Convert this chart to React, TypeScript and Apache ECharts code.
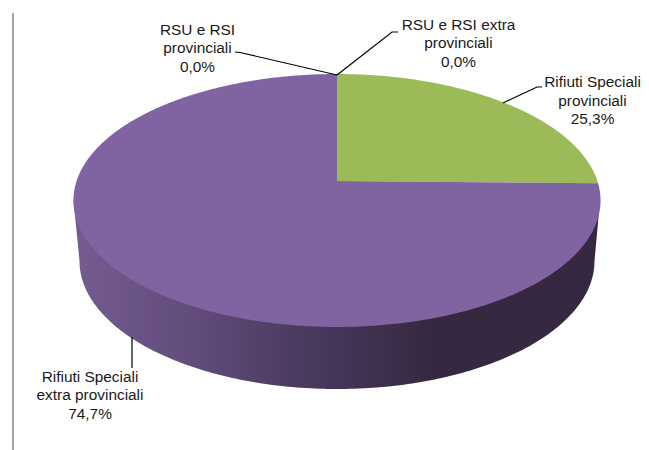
import React, { useEffect, useRef } from "react";
import * as echarts from "echarts";

const categories = [
  "RSU e RSI extra provinciali",
  "Rifiuti Speciali provinciali",
  "Rifiuti Speciali extra provinciali",
  "RSU e RSI provinciali",
];
const shares = [0.0, 25.3, 74.7, 0.0];
const sliceColors = ["#4F81BD", "#9BBB59", "#8064A2", "#C0504D"];
const labelLines = [
  ["RSU e RSI extra", "provinciali", "0,0%"],
  ["Rifiuti Speciali", "provinciali", "25,3%"],
  ["Rifiuti Speciali", "extra provinciali", "74,7%"],
  ["RSU e RSI", "provinciali", "0,0%"],
];

// Perspective of the pie's top face
const CX = 337;
const RX = 260.4;
const PERSP = 0.154;
const A = -95.6;
const VY = 181;
// Lower rim of the pie's side
const BOTTOM = { cx: 337, cy: 261, rx: 257.5, ry: 128 };
const TOP_EXT = { xl: 73.5, xr: 600, y: 200.5 };

const project = (deg: number) => {
  const t = (deg * Math.PI) / 180;
  const u = Math.sin(t);
  const v = Math.cos(t);
  const d = 1 + PERSP * v;
  return [CX + (RX * u) / d, (A * v + VY) / d];
};

const total = shares.reduce((a, b) => a + b, 0);
const startAngles: number[] = [];
shares.reduce((acc, s) => {
  startAngles.push((acc / total) * 360);
  return acc + s;
}, 0);

const labelPos: [number, number][] = [
  [458.5, 24],
  [592.5, 81.5],
  [90, 376],
  [197.5, 29],
];
const leaders: number[][][] = [
  [[337, 75], [392, 32], [398, 32]],
  [[503, 103], [537, 87], [542, 87]],
  [[132, 337], [132, 368]],
  [[337, 75], [240, 52.5], [235, 52]],
];

const renderSide = () => {
  const pts: number[][] = [[TOP_EXT.xr, TOP_EXT.y]];
  for (let a = 0; a <= 180; a += 1) {
    const t = (a * Math.PI) / 180;
    pts.push([BOTTOM.cx + BOTTOM.rx * Math.cos(t), BOTTOM.cy + BOTTOM.ry * Math.sin(t)]);
  }
  pts.push([TOP_EXT.xl, TOP_EXT.y]);
  return {
    type: "polygon",
    shape: { points: pts },
    style: {
      fill: new echarts.graphic.LinearGradient(0, 0, 1, 0, [
        { offset: 0, color: "#755C91" },
        { offset: 0.25, color: "#5F4A78" },
        { offset: 0.42, color: "#4C3B61" },
        { offset: 0.68, color: "#362841" },
        { offset: 1, color: "#352840" },
      ]),
    },
  };
};

const renderSlice = (params: any, api: any) => {
  const i = params.dataIndex;
  const value = api.value(0);
  if (!value) return { type: "group", children: [] };
  const start = startAngles[i];
  const sweep = (value / total) * 360;
  const pts: number[][] = [[CX, VY]];
  const steps = Math.ceil(sweep * 2);
  for (let k = 0; k <= steps; k++) pts.push(project(start + (sweep * k) / steps));
  return {
    type: "polygon",
    shape: { points: pts },
    style: { fill: sliceColors[i] },
  };
};

export default function App() {
  const ref = useRef<HTMLDivElement>(null);
  useEffect(() => {
    const chart = echarts.init(ref.current!, undefined, { renderer: "svg" });
    const textEls = labelLines.flatMap((lines, i) =>
      lines.map((line, j) => ({
        type: "text",
        x: labelPos[i][0],
        y: labelPos[i][1] + [0, 18.5, 37][j],
        style: {
          text: line,
          fill: "#1a1a1a",
          font: '15.4px "Liberation Sans", Arial, sans-serif',
          align: "center",
          verticalAlign: "middle",
        },
      }))
    );
    const lineEls = leaders.map((pts) => ({
      type: "polyline",
      shape: { points: pts },
      style: { stroke: "#000000", lineWidth: 1.2, fill: "none" },
      z: 10,
    }));
    chart.setOption({
      animation: false,
      backgroundColor: "#ffffff",
      series: [
        {
          type: "custom",
          coordinateSystem: "none",
          silent: true,
          data: [[1]],
          renderItem: renderSide,
          z: 1,
        },
        {
          type: "custom",
          coordinateSystem: "none",
          silent: true,
          data: shares.map((s, i) => ({ name: categories[i], value: [s] })),
          renderItem: renderSlice,
          z: 2,
        },
      ],
      graphic: [
        {
          type: "line",
          shape: { x1: 13, y1: 13, x2: 13, y2: 450 },
          style: { stroke: "#8c8c8c", lineWidth: 1.6 },
        },
        ...lineEls,
        ...textEls,
      ],
    });
    return () => chart.dispose();
  }, []);
  return <div ref={ref} style={{ position: "fixed", left: 0, top: 0, width: 649, height: 450 }} />;
}
